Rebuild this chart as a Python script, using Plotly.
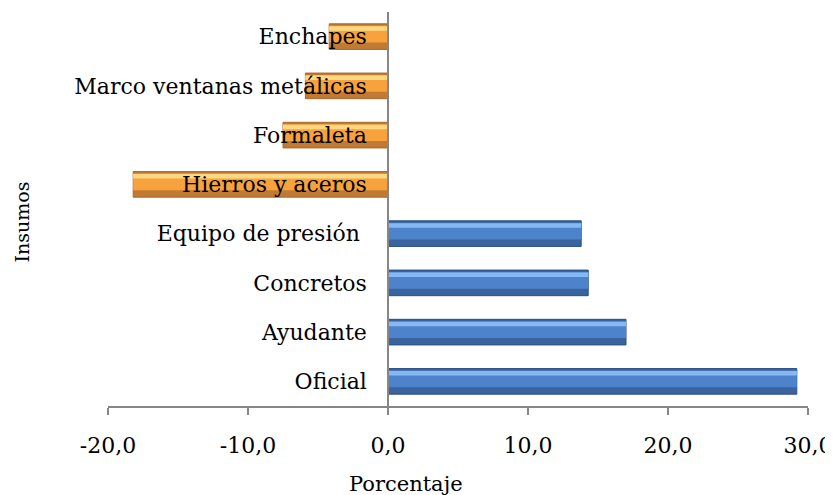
import plotly.graph_objects as go

# Data (bottom to top)
categories = ["Oficial", "Ayudante", "Concretos", "Equipo de presión ",
              "Hierros y aceros", "Formaleta", "Marco ventanas metálicas", "Enchapes"]
values = [29.2, 17.0, 14.3, 13.8, -18.2, -7.5, -5.9, -4.2]
tick_vals = [-20, -10, 0, 10, 20, 30]
tick_text = ["-20,0", "-10,0", "0,0", "10,0", "20,0", "30,0"]

FONT = "DejaVu Serif"

def pick(v, pos, neg):
    return pos if v > 0 else neg

base_cols = [pick(v, "#3a649f", "#c07a34") for v in values]
line_cols = [pick(v, "#2c4e80", "#a8682a") for v in values]
mid_cols = [pick(v, "#4d83cb", "#f7a23c") for v in values]
hi_cols = [pick(v, "#86b9f4", "#fdd882") for v in values]

fig = go.Figure()
# base (full bar, darker lower tone)
fig.add_trace(go.Bar(y=categories, x=values, orientation="h", width=0.52, offset=-0.26,
                     marker=dict(color=base_cols, line=dict(color=line_cols, width=1)),
                     showlegend=False, hoverinfo="x+y"))
# mid band
fig.add_trace(go.Bar(y=categories, x=values, orientation="h", width=0.34, offset=-0.12,
                     marker=dict(color=mid_cols, line=dict(width=0)),
                     showlegend=False, hoverinfo="skip"))
# highlight band
fig.add_trace(go.Bar(y=categories, x=values, orientation="h", width=0.09, offset=0.12,
                     marker=dict(color=hi_cols, line=dict(width=0)),
                     showlegend=False, hoverinfo="skip"))

fig.update_layout(
    width=825, height=487,
    margin=dict(l=100, r=25, t=4, b=89),
    paper_bgcolor="white", plot_bgcolor="white",
    barmode="overlay",
    font=dict(family=FONT, size=20, color="#000000"),
    xaxis=dict(range=[-20, 30], tickvals=tick_vals, ticktext=tick_text,
               showline=True, linecolor="#868686", linewidth=1.5,
               ticks="outside", ticklen=7, tickcolor="#868686", tickwidth=1.5,
               showgrid=False, zeroline=False, ticklabelstandoff=12, automargin=False,
               tickfont=dict(family=FONT, size=22)),
    yaxis=dict(type="category", categoryorder="array", categoryarray=categories,
               range=[-0.5, 7.5], anchor="free", position=0.4,
               showline=True, linecolor="#868686", linewidth=1.5,
               ticks="", showgrid=False, zeroline=False, ticklabelstandoff=16, automargin=False,
               tickfont=dict(family=FONT, size=22)),
    annotations=[
        dict(text="Porcentaje", xref="paper", yref="paper", x=0.426, y=-0.199,
             showarrow=False, font=dict(family=FONT, size=21), xanchor="center", yanchor="middle"),
        dict(text="Insumos", xref="paper", yref="paper", x=-0.123, y=0.468, textangle=-90,
             showarrow=False, font=dict(family=FONT, size=19), xanchor="center", yanchor="middle"),
    ],
)

fig.write_html("out.html")
